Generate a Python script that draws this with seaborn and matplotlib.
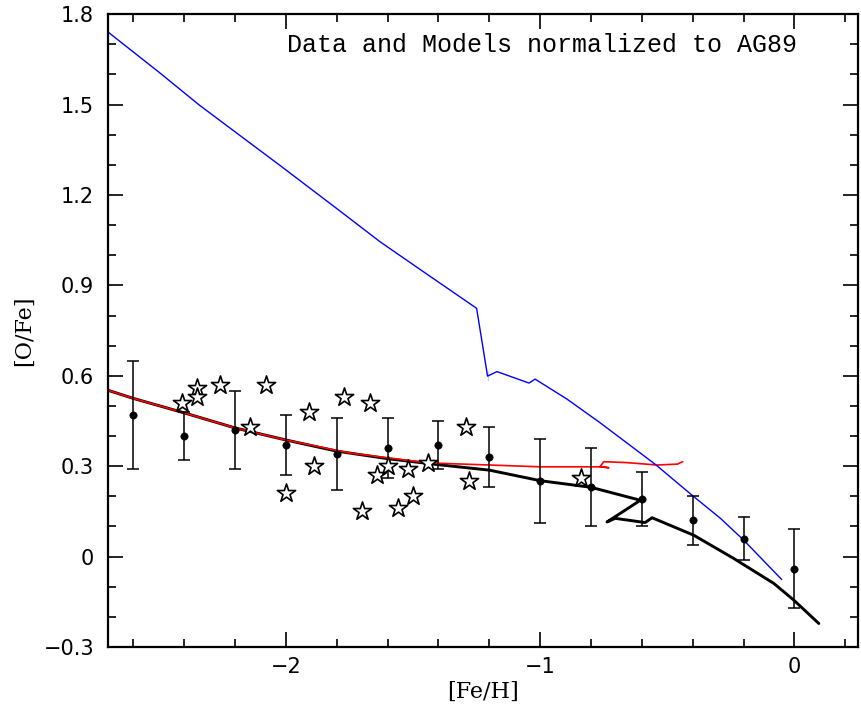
import numpy as np
import pandas as pd
import seaborn as sns
import matplotlib.pyplot as plt
from matplotlib.ticker import MultipleLocator

# observed means with error bars
obs_feh = [-2.6, -2.4, -2.2, -2.0, -1.8, -1.6, -1.4, -1.2, -1.0, -0.8, -0.6, -0.4, -0.2, 0.0]
obs_ofe = [0.47, 0.40, 0.42, 0.37, 0.34, 0.36, 0.37, 0.33, 0.25, 0.23, 0.19, 0.12, 0.06, -0.04]
obs_err = [0.18, 0.08, 0.13, 0.10, 0.12, 0.10, 0.08, 0.10, 0.14, 0.13, 0.09, 0.08, 0.07, 0.13]

# individual stars
star_feh = [-2.41, -2.35, -2.35, -2.26, -2.14, -2.08, -2.00, -1.91, -1.89, -1.77,
            -1.70, -1.67, -1.64, -1.60, -1.56, -1.52, -1.50, -1.44, -1.29, -1.28, -0.84]
star_ofe = [0.51, 0.56, 0.53, 0.57, 0.43, 0.57, 0.21, 0.48, 0.30, 0.53,
            0.15, 0.51, 0.27, 0.30, 0.16, 0.29, 0.20, 0.31, 0.43, 0.25, 0.26]

# model curves
blue_feh = [-2.70, -2.50, -2.34, -2.02, -1.80, -1.63, -1.45, -1.25, -1.207, -1.207, -1.17,
            -1.044, -1.02, -0.895, -0.764, -0.547, -0.403, -0.291, -0.20, -0.05]
blue_ofe = [1.741, 1.608, 1.498, 1.296, 1.155, 1.045, 0.940, 0.824, 0.582, 0.616, 0.614,
            0.576, 0.589, 0.523, 0.444, 0.306, 0.204, 0.127, 0.055, -0.076]

red_feh = [-2.70, -2.6, -2.4, -2.2, -2.0, -1.75, -1.6, -1.44, -1.2, -1.0, -0.76, -0.73,
           -0.765, -0.75, -0.66, -0.54, -0.46, -0.44]
red_ofe = [0.552, 0.525, 0.477, 0.427, 0.387, 0.344, 0.328, 0.311, 0.304, 0.298, 0.298, 0.295,
           0.298, 0.315, 0.312, 0.304, 0.307, 0.315]

black_feh = [-2.70, -2.6, -2.4, -2.2, -2.0, -1.8, -1.6, -1.4, -1.2, -1.0, -0.8, -0.606,
             -0.737, -0.705, -0.587, -0.56, -0.396, -0.239, -0.081, -0.003, 0.096]
black_ofe = [0.552, 0.525, 0.477, 0.427, 0.387, 0.35, 0.325, 0.305, 0.287, 0.252, 0.23, 0.187,
             0.115, 0.127, 0.113, 0.129, 0.071, -0.006, -0.089, -0.144, -0.222]

sns.set_style("ticks", {"axes.edgecolor": "black", "xtick.color": "black",
                        "ytick.color": "black", "text.color": "black",
                        "axes.labelcolor": "black"})
plt.rcParams['font.family'] = ['DejaVu Sans']


def minus_fmt(v, p, nd):
    if abs(v) < 1e-9:
        return "0"
    return f"{v:.{nd}f}".replace("-", "\u2212")


fig = plt.figure(figsize=(8.61, 7.11), dpi=100)
ax = fig.add_axes([0.1254, 0.090, 0.8711, 0.890])

sns.lineplot(x=black_feh, y=black_ofe, sort=False, color="black", lw=2.1, ax=ax)
sns.lineplot(x=red_feh, y=red_ofe, sort=False, color="red", lw=1.2, ax=ax)
sns.lineplot(x=blue_feh, y=blue_ofe, sort=False, color="blue", lw=1.0, ax=ax)

ax.errorbar(obs_feh, obs_ofe, yerr=obs_err, fmt="none", ecolor="black",
            elinewidth=1.1, capsize=4, capthick=1.1)
sns.scatterplot(x=obs_feh, y=obs_ofe, color="black", s=28, edgecolor="black", ax=ax, zorder=5)
sns.scatterplot(x=star_feh, y=star_ofe, marker="*", s=190, facecolor="white",
                edgecolor="black", linewidth=1.2, ax=ax, zorder=6)

ax.set_xlim(-2.7, 0.25)
ax.set_ylim(-0.3, 1.8)
ax.xaxis.set_major_locator(MultipleLocator(1))
ax.xaxis.set_minor_locator(MultipleLocator(0.2))
ax.yaxis.set_major_locator(MultipleLocator(0.3))
ax.yaxis.set_minor_locator(MultipleLocator(0.1))
ax.yaxis.set_major_formatter(plt.FuncFormatter(lambda v, p: minus_fmt(v, p, 1)))
ax.xaxis.set_major_formatter(plt.FuncFormatter(lambda v, p: minus_fmt(v, p, 0)))
ax.tick_params(which="both", direction="in", top=True, right=True, width=1.2,
               labelsize=15, color="black", labelcolor="black")
ax.tick_params(which="major", length=11)
ax.tick_params(which="minor", length=5.5)
ax.tick_params(axis="y", which="major", pad=10)
ax.tick_params(axis="x", which="major", pad=7)
for s in ax.spines.values():
    s.set_linewidth(1.6)
    s.set_color("black")

ax.set_xlabel("[Fe/H]", fontsize=16, family="DejaVu Serif", labelpad=3, color="black")
ax.set_ylabel("[O/Fe]", fontsize=16, family="DejaVu Serif", labelpad=6, color="black")
ax.text(0.2387, 0.951, "Data and Models normalized to AG89", transform=ax.transAxes,
        ha="left", va="center", fontsize=18, family="Liberation Mono", color="black")

plt.savefig("out.png", dpi=100)
